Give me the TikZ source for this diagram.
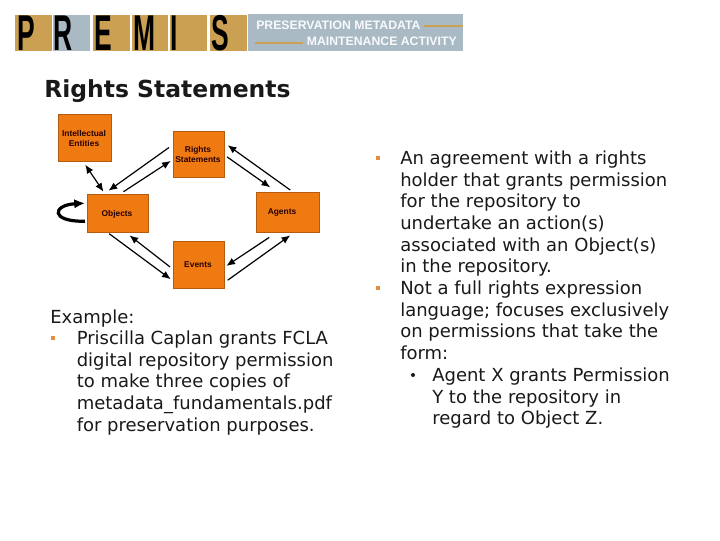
\documentclass[tikz,border=0pt]{standalone}
\usepackage{fontspec}
\setmainfont{DejaVu Sans}
\newfontfamily\labelfont{Liberation Sans}
\usepackage{tikz}
\usetikzlibrary{arrows.meta}

\definecolor{boxorange}{HTML}{F07A12}
\definecolor{logotan}{HTML}{CBA052}
\definecolor{logoblue}{HTML}{A9BAC5}
\definecolor{bulletorange}{HTML}{E09040}

\tikzset{
	entitybox/.style={draw=boxorange!75!black,line width=0.3pt,fill=boxorange,anchor=north west,inner sep=0pt},
	entitytext/.style={font=\labelfont\bfseries\fontsize{6.3}{7.5}\selectfont,align=center,inner sep=0pt,text=black!85!red},
	link/.style={-{Latex[length=6.5pt,width=5.5pt]},line width=0.9pt},
	bothlink/.style={{Latex[length=6.5pt,width=5.5pt]}-{Latex[length=6.5pt,width=5.5pt]},line width=0.9pt},
	bodytext/.style={anchor=north west,align=left,inner sep=0pt,font=\fontsize{13.5}{16.25}\selectfont,text=black!90},
	squarebullet/.style={fill=bulletorange,minimum size=3.5pt,inner sep=0pt},
	logotile/.style={fill=logotan,anchor=north west,inner sep=0pt,minimum height=26.5pt},
	logoletter/.style={font=\labelfont\bfseries\fontsize{32}{32}\selectfont,inner sep=0pt,text=black},
	bandtext/.style={font=\labelfont\bfseries\fontsize{9.2}{9.2}\selectfont,inner sep=0pt,text=white!92!logoblue},
	bandrule/.style={draw=logotan,line width=1pt}
}

\begin{document}
\begin{tikzpicture}[x=0.75pt,y=0.75pt,yscale=-1,xscale=1]
	\useasboundingbox (0,0) rectangle (720,540);
	
	%Logo tiles
	\node (tileP) [logotile,minimum width=27.75pt] at (15,15) {};
	\node (tileR) [logotile,minimum width=27.75pt,fill=logoblue] at (53,15) {};
	\node (tileE) [logotile,minimum width=27.75pt] at (93,15) {};
	\node (tileM) [logotile,minimum width=27pt] at (132,15) {};
	\node (tileI) [logotile,minimum width=27.75pt] at (170,15) {};
	\node (tileS) [logotile,minimum width=27.75pt] at (210,15) {};
	\node (band) [logotile,minimum width=161.25pt,minimum height=27.75pt,fill=logoblue] at (248,14) {};
	
	% Logo letters
	\node (letterP) [logoletter,xscale=0.62,yscale=1.18] at (26,33) {P};
	\node (letterR) [logoletter,xscale=0.62,yscale=1.18] at (63,33) {R};
	\node (letterE) [logoletter,xscale=0.62,yscale=1.18] at (103,33) {E};
	\node (letterM) [logoletter,xscale=0.62,yscale=1.18] at (145,33) {M};
	\node (letterI) [logoletter,xscale=0.62,yscale=1.18] at (174,33) {I};
	\node (letterS) [logoletter,xscale=0.62,yscale=1.18] at (220,33) {S};
	
	% Band text
	\node (bandtop) [bandtext,anchor=west] at (256,25) {PRESERVATION METADATA};
	\node (bandlow) [bandtext,anchor=east] at (457,41) {MAINTENANCE ACTIVITY};
	\coordinate (bandtopend) at (463,26);
	\coordinate (bandlowstart) at (255,43);
	\draw [bandrule] ([xshift=2.5pt]bandtop.east |- bandtopend) -- (bandtopend);
	\draw [bandrule] (bandlowstart) -- ([xshift=-3pt]bandlow.west |- bandlowstart);
	
	% Title
	\node (title) [anchor=west,inner sep=0pt,font=\bfseries\fontsize{17.6}{20}\selectfont,text=black!90] at (44,91.5) {Rights Statements};
	
	%Entity boxes
	\node (entities) [entitybox,minimum width=39.75pt,minimum height=35.25pt] at (58,114) {};
	\node (rights) [entitybox,minimum width=38.25pt,minimum height=34.5pt] at (173,131) {};
	\node (objects) [entitybox,minimum width=45.75pt,minimum height=28.5pt] at (87,194) {};
	\node (agents) [entitybox,minimum width=47.25pt,minimum height=30pt] at (256,192) {};
	\node (events) [entitybox,minimum width=38.25pt,minimum height=35.25pt] at (173,241) {};
	
	% Entity labels
	\node (entitieslabel) [entitytext] at (84,138) {Intellectual\\Entities};
	\node (rightslabel) [entitytext] at (198,154) {Rights\\Statements};
	\node (objectslabel) [entitytext] at (117,214) {Objects};
	\node (agentslabel) [entitytext] at (282,212) {Agents};
	\node (eventslabel) [entitytext] at (198,265) {Events};
	
	%Connectors
	\draw [bothlink] ([shift={(0.5,3.3)}]entities.south) -- ([shift={(-14.2,-2.3)}]objects.north);
	\draw [link] ([shift={(-4,-6.7)}]rights.west) -- ([shift={(-9.2,-3.3)}]objects.north);
	\draw [link] ([shift={(5.8,-2.3)}]objects.north) -- ([shift={(-2.3,6.7)}]rights.west);
	\draw [link] ([shift={(2.7,2.7)}]rights.east) -- ([shift={(-17.5,-4.7)}]agents.north);
	\draw [link] ([shift={(2.5,-2)}]agents.north) -- ([shift={(3.3,-9)}]rights.east);
	\draw [link] ([shift={(-18.5,5)}]agents.south) -- ([shift={(2,1.2)}]events.east);
	\draw [link] ([shift={(3.3,15.5)}]events.east) -- ([shift={(2.5,3)}]agents.south);
	\draw [link] ([shift={(-3,2.2)}]events.west) -- ([shift={(11.8,3)}]objects.south);
	\draw [link] ([shift={(-8.5,1.3)}]objects.south) -- ([shift={(-2.3,14.5)}]events.west);
	%Self loop
	\draw [-{Latex[length=8pt,width=7pt]},line width=2.4pt] ([shift={(-2,8)}]objects.west) .. controls (50,222) and (52,205) .. ([shift={(-2,-10)}]objects.west);
	
	% Left text
	\node (example) [bodytext] at (50,309.5) {Example:};
	\node (examplebullet) [squarebullet] at (53,338) {};
	\node (exampletext) [bodytext] at (76.5,330.5) {Priscilla Caplan grants FCLA\\digital repository permission\\to make three copies of\\metadata\_fundamentals.pdf\\for preservation purposes.};
	
	% Right text
	\node (agreebullet) [squarebullet] at (378,158) {};
	\node (agreetext) [bodytext] at (400,150.5) {An agreement with a rights\\holder that grants permission\\for the repository to\\undertake an action(s)\\associated with an Object(s)\\in the repository.};
	\node (notbullet) [squarebullet] at (378,288) {};
	\node (nottext) [bodytext] at (400,280.5) {Not a full rights expression\\language; focuses exclusively\\on permissions that take the\\form:};
	\node (agentbullet) [circle,fill=black!90,minimum size=3pt,inner sep=0pt] at (413,375) {};
	\node (agenttext) [bodytext] at (432,367.5) {Agent X grants Permission\\Y to the repository in\\regard to Object Z.};
	
\end{tikzpicture}
\end{document}
